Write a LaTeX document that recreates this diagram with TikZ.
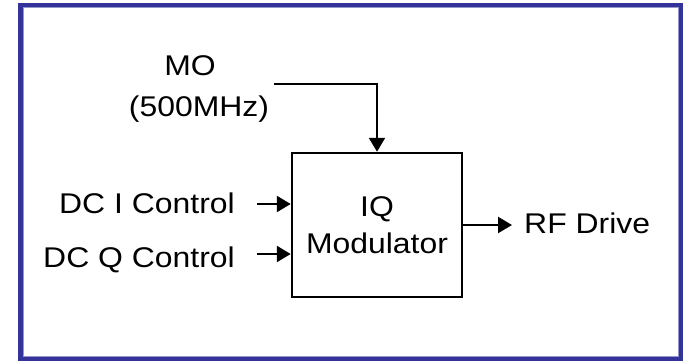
\documentclass[tikz,border=0pt]{standalone}
\usepackage{fontspec}
\setmainfont[FakeStretch=1.12]{Liberation Sans}
\usetikzlibrary{arrows.meta}
\definecolor{frameblue}{RGB}{51,51,153}
\definecolor{framelight}{RGB}{150,150,205}
\begin{document}
\begin{tikzpicture}[x=1pt,y=-1pt,
  lbl/.style={inner sep=0pt, font=\fontsize{28.5}{37}\selectfont},
  boxnode/.style={draw, line width=2.5pt, minimum width=170pt, minimum height=144pt, inner sep=0pt, align=center, font=\fontsize{28.5}{37}\selectfont},
  conn/.style={line width=2.5pt, -{Triangle[length=14pt,width=16pt]}}
]
\useasboundingbox (0,0) rectangle (683,361);
% frame
\draw[draw=frameblue, line width=4.5pt] (20.5,5.2) rectangle (681,358.8);
\draw[draw=framelight, line width=0.8pt] (23.2,7.9) rectangle (678.3,356.1);
% block
\node[boxnode] (mod) at (377,225) {IQ\\Modulator};
% labels
\node[lbl, anchor=base] (mo) at (190,75) {MO};
\node[lbl, anchor=base] (freq) at (199,116) {(500MHz)};
\node[lbl, anchor=base east] (dci) at (235,213) {DC I Control};
\node[lbl, anchor=base east] (dcq) at (235,267) {DC Q Control};
\node[lbl, anchor=base west] (rf) at (524,233) {RF Drive};
% connector ends
\coordinate (moa) at (274,84);
\coordinate (ia) at (257,204);
\coordinate (qa) at (257,254);
\coordinate (rfa) at (512,225);
% connectors
\draw[conn] (moa) -| (mod.north);
\draw[conn] (ia) -- (ia -| mod.west);
\draw[conn] (qa) -- (qa -| mod.west);
\draw[conn] (rfa -| mod.east) -- (rfa);
\end{tikzpicture}
\end{document}
